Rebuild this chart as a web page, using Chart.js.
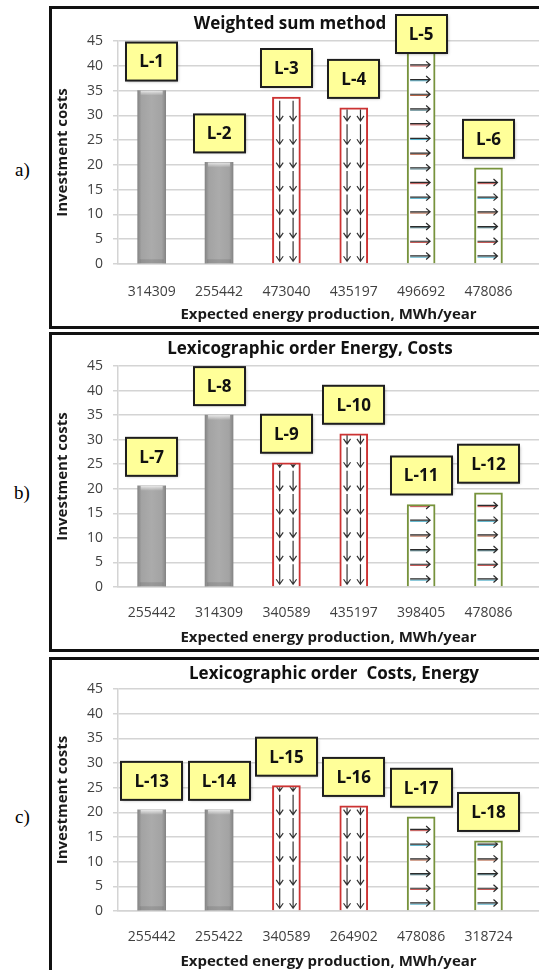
<!DOCTYPE html>
<html><head><meta charset="utf-8">
<script src="https://cdn.jsdelivr.net/npm/chart.js@4.4.1/dist/chart.umd.min.js"></script>
<style>
html,body{margin:0;padding:0;background:#fff;overflow:hidden;width:539px;height:970px;}
.panel{position:absolute;left:49px;width:560px;border:3px solid #111;box-sizing:border-box;}
.tag{position:absolute;font-family:"Liberation Serif","DejaVu Serif",serif;font-size:19px;color:#000;line-height:20px;}
canvas{position:absolute;}
</style></head><body>
<div class="panel" style="top:6px;height:323px"></div>
<div class="panel" style="top:332px;height:320px"></div>
<div class="panel" style="top:657px;height:400px"></div>
<div class="tag" style="left:15px;top:160px">a)</div>
<div class="tag" style="left:14px;top:483px">b)</div>
<div class="tag" style="left:15px;top:807px">c)</div>
<canvas id="cA" width="487" height="317" style="left:52px;top:9px"></canvas>
<canvas id="cB" width="487" height="314" style="left:52px;top:335px"></canvas>
<canvas id="cC" width="487" height="314" style="left:52px;top:660px"></canvas>
<script>
// ---- data ----
const titleA = 'Weighted sum method';
const catsA = ['314309', '255442', '473040', '435197', '496692', '478086'];
const costsA = [35, 20.5, 33.7, 31.5, 47, 19.4];
const tagsA = ['L-1', 'L-2', 'L-3', 'L-4', 'L-5', 'L-6'];

const titleB = 'Lexicographic order Energy, Costs';
const catsB = ['255442', '314309', '340589', '435197', '398405', '478086'];
const costsB = [20.6, 35, 25.3, 31.2, 16.8, 19.2];
const tagsB = ['L-7', 'L-8', 'L-9', 'L-10', 'L-11', 'L-12'];

const titleC = 'Lexicographic order  Costs, Energy';
const catsC = ['255442', '255422', '340589', '264902', '478086', '318724'];
const costsC = [20.5, 20.5, 25.4, 21.3, 19.1, 14.2];
const tagsC = ['L-13', 'L-14', 'L-15', 'L-16', 'L-17', 'L-18'];

const xAxisTitle = 'Expected energy production, MWh/year';
const yAxisTitle = 'Investment costs';
const yMin = 0, yMax = 45, yStep = 5;

// ---- styles ----
const kinds = ['solid', 'solid', 'down', 'down', 'right', 'right'];
const FONT = '"Open Sans", "DejaVu Sans", sans-serif';
const BAR_W = 28;
const X_MIN = -0.5, X_MAX = 5.75;

const decor = {
  id: 'decor',
  afterDatasetsDraw(chart, args, opts) {
    const ctx = chart.ctx, area = chart.chartArea;
    const meta = chart.getDatasetMeta(0);
    meta.data.forEach((el, i) => {
      const p = el.getProps(['x', 'y', 'base', 'width'], true);
      const top = Math.max(p.y, area.top);
      const l = p.x - p.width / 2, r = p.x + p.width / 2;
      ctx.save();
      if (kinds[i] === 'solid') {
        ctx.beginPath(); ctx.rect(l, top, p.width, p.base - top); ctx.clip();
        const g = ctx.createLinearGradient(0, top, 0, top + 5);
        g.addColorStop(0, 'rgba(255,255,255,0.75)'); g.addColorStop(1, 'rgba(255,255,255,0)');
        ctx.fillStyle = g; ctx.fillRect(l + 3, top, p.width - 6, 5);
        ctx.fillStyle = 'rgba(0,0,0,0.10)'; ctx.fillRect(l + 2, p.base - 4, p.width - 4, 4);
      } else if (kinds[i] === 'down') {
        ctx.beginPath(); ctx.rect(l + 1.5, top + 1.5, p.width - 3, p.base - top - 2); ctx.clip();
        ctx.strokeStyle = '#333'; ctx.lineWidth = 1.2;
        for (let yb = p.base - 2; yb > top; yb -= 23.4) {
          [-6.7, 6.7].forEach(dx => {
            const xa = p.x + dx;
            ctx.beginPath(); ctx.moveTo(xa, yb - 20); ctx.lineTo(xa, yb);
            ctx.moveTo(xa - 3.5, yb - 5); ctx.lineTo(xa, yb); ctx.lineTo(xa + 3.5, yb - 5);
            ctx.stroke();
          });
        }
      } else {
        ctx.beginPath(); ctx.rect(l + 1.5, top + 1.5, p.width - 3, p.base - top - 2); ctx.clip();
        const cols = ['#4bacc6', '#c0504d', '#3f6f7a', '#b05a3a'];
        let k = 0;
        for (let yr = p.base - 7.3; yr > top; yr -= 14.7, k++) {
          ctx.strokeStyle = cols[k % cols.length]; ctx.lineWidth = 1;
          ctx.beginPath(); ctx.moveTo(l + 3, yr + 1.2); ctx.lineTo(r - 6, yr + 1.2); ctx.stroke();
          ctx.strokeStyle = '#2b2b2b'; ctx.lineWidth = 1.2;
          ctx.beginPath(); ctx.moveTo(l + 3, yr); ctx.lineTo(r - 5, yr);
          ctx.moveTo(r - 9, yr - 3.5); ctx.lineTo(r - 5, yr); ctx.lineTo(r - 9, yr + 3.5);
          ctx.stroke();
        }
      }
      ctx.restore();
    });
    // label boxes
    const tags = opts.tags;
    ctx.save();
    ctx.font = 'bold 17px ' + FONT;
    meta.data.forEach((el, i) => {
      const p = el.getProps(['x', 'y'], true);
      const w = Math.round(ctx.measureText(tags[i]).width + 26), h = 38;
      let bt = Math.max(p.y, area.top) - 10 - h;
      if (p.y < area.top) bt = area.top - 26;
      bt = Math.max(bt, area.top - 26);
      const bl = Math.round(p.x - w / 2);
      ctx.save();
      ctx.shadowColor = 'rgba(0,0,0,0.35)'; ctx.shadowBlur = 3; ctx.shadowOffsetX = 1; ctx.shadowOffsetY = 1;
      ctx.fillStyle = '#ffff99';
      ctx.fillRect(bl, bt, w, h);
      ctx.restore();
      ctx.strokeStyle = '#1e1e1e'; ctx.lineWidth = 2;
      ctx.strokeRect(bl, bt, w, h);
      ctx.fillStyle = '#111'; ctx.textAlign = 'center'; ctx.textBaseline = 'middle';
      ctx.fillText(tags[i], p.x, bt + h / 2 + 1);
    });
    ctx.restore();
  },
  afterDraw(chart, args, opts) {
    const ctx = chart.ctx;
    ctx.save();
    ctx.font = 'bold 17px ' + FONT;
    ctx.fillStyle = '#111'; ctx.textAlign = 'center'; ctx.textBaseline = 'middle';
    ctx.fillText(opts.title, opts.titleX, opts.titleY);
    ctx.restore();
  }
};

function makeChart(id, title, cats, costs, tags, lay) {
  const canvas = document.getElementById(id);
  return new Chart(canvas, {
    type: 'bar',
    data: {
      datasets: [{
        data: costs.map((v, i) => ({ x: i, y: v })),
        barThickness: BAR_W,
        backgroundColor: c => {
          const i = c.dataIndex;
          if (kinds[i] !== 'solid') return '#ffffff';
          const xs = c.chart.scales.x;
          if (!xs || !isFinite(xs.getPixelForValue(i))) return '#a6a6a6';
          const cx = xs.getPixelForValue(i);
          const g = c.chart.ctx.createLinearGradient(cx - BAR_W / 2, 0, cx + BAR_W / 2, 0);
          g.addColorStop(0, '#858585'); g.addColorStop(0.14, '#a3a3a3');
          g.addColorStop(0.5, '#ababab'); g.addColorStop(0.86, '#a3a3a3'); g.addColorStop(1, '#858585');
          return g;
        },
        borderColor: c => kinds[c.dataIndex] === 'down' ? '#cc3333' : (kinds[c.dataIndex] === 'right' ? '#77933c' : '#8a8a8a'),
        borderWidth: c => kinds[c.dataIndex] === 'solid' ? 0 : 2
      }]
    },
    options: {
      responsive: false,
      animation: false,
      events: [],
      layout: { padding: { top: lay.top, left: 0, right: 0, bottom: 0 } },
      plugins: {
        legend: { display: false },
        tooltip: { enabled: false },
        title: { display: false },
        decor: { title: title, titleX: lay.titleX, titleY: lay.titleY, tags: tags }
      },
      scales: {
        x: {
          type: 'linear', min: X_MIN, max: X_MAX, bounds: 'data', offset: false,
          afterBuildTicks: s => { s.ticks = cats.map((_, i) => ({ value: i })); s.min = X_MIN; s.max = X_MAX; },
          afterFit: s => { s.height = lay.xh; },
          grid: { display: false, drawTicks: false, offset: false },
          border: { display: true, color: '#d4d4d4', width: 1.5 },
          ticks: { autoSkip: false, maxRotation: 0, padding: lay.tickPad, color: '#404040',
                   font: { family: FONT, size: 14 }, callback: v => cats[v] },
          title: { display: true, text: xAxisTitle, color: '#1a1a1a',
                   font: { family: FONT, size: 15, weight: 'bold' }, padding: { top: 0, bottom: lay.xtPad } }
        },
        y: {
          min: yMin, max: yMax,
          afterFit: s => { s.width = 66; },
          grid: { color: '#d4d4d4', lineWidth: 1.5, tickLength: 5, drawTicks: true },
          border: { display: true, color: '#d4d4d4', width: 1.5 },
          ticks: { stepSize: yStep, padding: 10, color: '#404040', font: { family: FONT, size: 14 } },
          title: { display: true, text: yAxisTitle, color: '#1a1a1a',
                   font: { family: FONT, size: 15, weight: 'bold' }, padding: { top: 2, bottom: 0 } }
        }
      }
    },
    plugins: [decor]
  });
}

makeChart('cA', titleA, catsA, costsA, tagsA, { top: 32, xh: 62, tickPad: 20, xtPad: 2, titleX: 238, titleY: 15 });
makeChart('cB', titleB, catsB, costsB, tagsB, { top: 31, xh: 62, tickPad: 18, xtPad: 2, titleX: 258, titleY: 14 });
makeChart('cC', titleC, catsC, costsC, tagsC, { top: 29, xh: 63, tickPad: 18, xtPad: 3, titleX: 282, titleY: 14 });
</script>
</body></html>
